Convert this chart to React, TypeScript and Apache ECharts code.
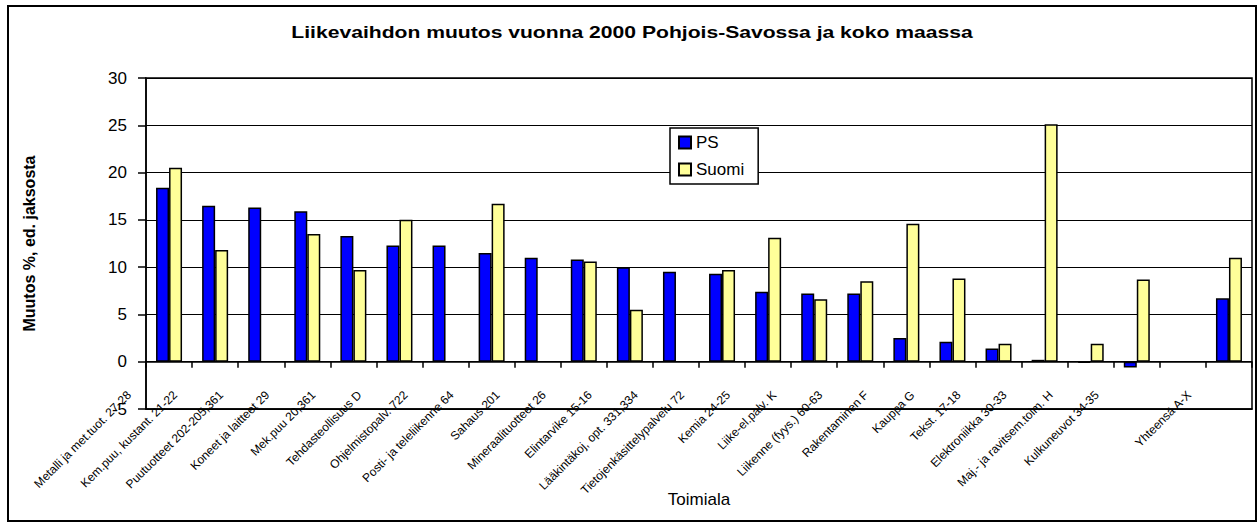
import React, { useEffect, useRef } from "react";
import * as echarts from "echarts";

const categories = [
  "Metalli ja met.tuot. 27-28",
  "Kem.puu, kustant. 21-22",
  "Puutuotteet 202-205,361",
  "Koneet ja laitteet 29",
  "Mek.puu 20,361",
  "Tehdasteollisuus D",
  "Ohjelmistopalv. 722",
  "Posti- ja teleliikenne 64",
  "Sahaus 201",
  "Mineraalituotteet 26",
  "Elintarvike 15-16",
  "Lääkintäkoj, opt. 331,334",
  "Tietojenkäsittelypalvelu 72",
  "Kemia 24-25",
  "Liike-el.palv. K",
  "Liikenne (fyys.) 60-63",
  "Rakentaminen F",
  "Kauppa G",
  "Tekst. 17-18",
  "Elektroniikka 30-33",
  "Maj.- ja ravitsem.toim. H",
  "Kulkuneuvot 34-35",
  "",
  "Yhteensä A-X",
];

const psValues = [18.4, 16.5, 16.3, 15.9, 13.3, 12.3, 12.3, 11.5, 11.0, 10.8, 10.0, 9.5, 9.3, 7.4, 7.2, 7.2, 2.5, 2.1, 1.4, 0.2, -0.1, -0.6, null, 6.7];
const suomiValues = [20.5, 11.8, null, 13.5, 9.7, 15.0, null, 16.7, null, 10.6, 5.5, null, 9.7, 13.1, 6.6, 8.5, 14.6, 8.8, 1.9, 25.1, 1.9, 8.7, null, 11.0];

const yTicks = { min: -5, max: 30, interval: 5 };

const titleText = "Liikevaihdon muutos vuonna 2000 Pohjois-Savossa ja koko maassa";
const yName = "Muutos %, ed. jaksosta";
const xName = "Toimiala";
const seriesNames = ["PS", "Suomi"];

const FONT = "Liberation Sans, Arial, sans-serif";

export default function App() {
  const ref = useRef<HTMLDivElement>(null);
  useEffect(() => {
    if (!ref.current) return;
    const chart = echarts.init(ref.current, null, { renderer: "svg" });
    chart.setOption({
      animation: false,
      backgroundColor: "#fff",
      textStyle: { fontFamily: FONT, color: "#000" },
      graphic: [
        {
          type: "rect",
          shape: { x: 8, y: 6, width: 1248, height: 515 },
          style: { fill: "none", stroke: "#000", lineWidth: 2 },
          silent: true,
        },
        {
          type: "text",
          x: 632,
          y: 32,
          scaleX: 1.32,
          style: {
            text: titleText,
            font: "bold 16px " + FONT,
            fill: "#000",
            textAlign: "center",
            textVerticalAlign: "middle",
          },
        },
      ],
      legend: {
        orient: "vertical",
        left: 670,
        top: 128,
        padding: [6, 14, 6, 8],
        itemWidth: 12,
        itemHeight: 12,
        itemGap: 10,
        icon: "rect",
        borderColor: "#000",
        borderWidth: 1.5,
        backgroundColor: "#fff",
        textStyle: { fontSize: 17, lineHeight: 16, color: "#000", fontFamily: FONT },
        data: seriesNames,
      },
      grid: [
        { left: 146, right: 5, top: 78, bottom: 114, show: true, borderColor: "#000", borderWidth: 1.5, backgroundColor: "transparent", containLabel: false },
        { left: 106, right: 45, top: 78, bottom: 133, show: false, containLabel: false },
      ],
      xAxis: [
        {
          type: "category",
          gridIndex: 0,
          position: "bottom",
          data: categories,
          axisLine: { onZero: false, lineStyle: { color: "#000", width: 1.5 } },
          axisTick: { show: false },
          axisLabel: { show: false },
          splitLine: { show: false },
          name: xName,
          nameLocation: "middle",
          nameGap: 82,
          nameTextStyle: { fontSize: 17, color: "#000", fontFamily: FONT },
        },
        {
          type: "category",
          gridIndex: 0,
          position: "bottom",
          data: categories,
          axisLine: { onZero: true, lineStyle: { color: "#000", width: 1.5 } },
          axisTick: { show: true, length: 6, interval: 0, lineStyle: { color: "#000", width: 1.5 } },
          axisLabel: { show: false },
          splitLine: { show: false },
        },
        {
          type: "category",
          gridIndex: 1,
          position: "bottom",
          data: categories,
          axisLine: { show: false, onZero: false },
          axisTick: { show: false },
          axisLabel: { show: true, interval: 0, rotate: 45, margin: 3, fontSize: 12, color: "#000", fontFamily: FONT },
          splitLine: { show: false },
        },
      ],
      yAxis: [
        {
          type: "value",
          gridIndex: 0,
          min: yTicks.min,
          max: yTicks.max,
          interval: yTicks.interval,
          axisLine: { show: true, lineStyle: { color: "#000", width: 1.5 } },
          axisTick: { show: true, length: 8, lineStyle: { color: "#000", width: 1.5 } },
          axisLabel: { margin: 19, fontSize: 17, color: "#000", fontFamily: FONT },
          splitLine: { show: true, lineStyle: { color: "#000", width: 1.2 } },
          name: yName,
          nameLocation: "middle",
          nameGap: 109,
          nameTextStyle: { fontSize: 16, fontWeight: "bold", color: "#000", fontFamily: FONT },
        },
        { type: "value", gridIndex: 1, show: false, min: 0, max: 1 },
      ],
      series: [
        {
          name: seriesNames[0],
          type: "bar",
          xAxisIndex: 0,
          yAxisIndex: 0,
          data: psValues,
          barWidth: 13,
          barGap: "0%",
          itemStyle: { color: "#0000FF", borderColor: "#000", borderWidth: 1.5 },
        },
        {
          name: seriesNames[1],
          type: "bar",
          xAxisIndex: 0,
          yAxisIndex: 0,
          data: suomiValues,
          barWidth: 13,
          barGap: "0%",
          itemStyle: { color: "#FFFF99", borderColor: "#000", borderWidth: 1.5 },
        },
      ],
    });
    return () => chart.dispose();
  }, []);
  return <div ref={ref} style={{ position: "fixed", left: 0, top: 0, width: 1257, height: 523 }} />;
}
